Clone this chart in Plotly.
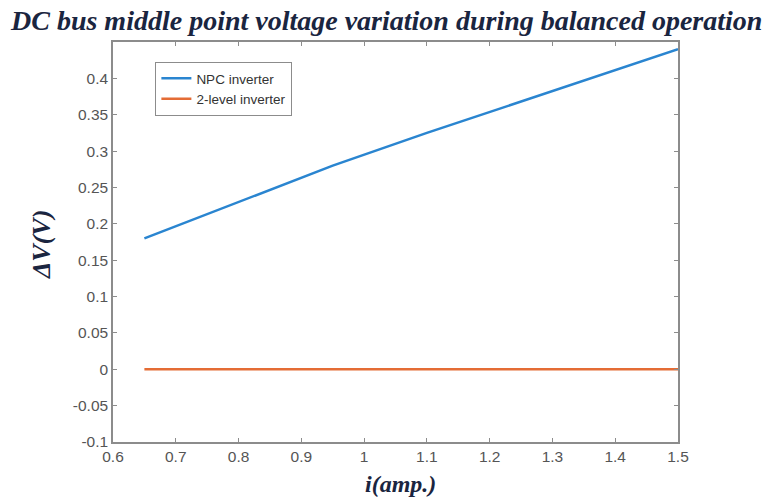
import plotly.graph_objects as go

x_npc = [0.65, 0.8, 0.95, 1.1, 1.3, 1.5]
y_npc = [0.18, 0.23, 0.28, 0.325, 0.383, 0.44]
x_2l = [0.65, 1.5]
y_2l = [0.0, 0.0]
x_ticks = [0.6, 0.7, 0.8, 0.9, 1.0, 1.1, 1.2, 1.3, 1.4, 1.5]
x_tick_labels = ["0.6", "0.7", "0.8", "0.9", "1", "1.1", "1.2", "1.3", "1.4", "1.5"]
y_ticks = [-0.1, -0.05, 0, 0.05, 0.1, 0.15, 0.2, 0.25, 0.3, 0.35, 0.4]
y_tick_labels = ["-0.1", "-0.05", "0", "0.05", "0.1", "0.15", "0.2", "0.25", "0.3", "0.35", "0.4"]

fig = go.Figure()
fig.add_trace(go.Scatter(x=x_npc, y=y_npc, mode="lines", name="NPC inverter",
                         line=dict(color="#2a85d0", width=2.5)))
fig.add_trace(go.Scatter(x=x_2l, y=y_2l, mode="lines", name="2-level inverter",
                         line=dict(color="#e46c35", width=2.5)))

axis_common = dict(showline=True, linecolor="#8c8c8c", linewidth=1.5, mirror="allticks",
                   ticks="inside", ticklen=4, tickcolor="#8c8c8c", showgrid=False, zeroline=False,
                   tickfont=dict(family="Liberation Sans, Arial", size=15.5, color="#555555"))

fig.update_layout(
    width=769, height=499,
    margin=dict(l=113, r=91, t=42, b=57),
    paper_bgcolor="white", plot_bgcolor="white",
    showlegend=True,
    legend=dict(x=0.075, y=0.95, xanchor="left", yanchor="top",
                bordercolor="#8c8c8c", borderwidth=1, bgcolor="white",
                font=dict(family="Liberation Sans, Arial", size=13.5, color="#333333"),
                tracegroupgap=0, itemwidth=30),
    xaxis=dict(range=[0.6, 1.5], tickvals=x_ticks, ticktext=x_tick_labels, **axis_common),
    yaxis=dict(range=[-0.1, 0.45], tickvals=y_ticks, ticktext=y_tick_labels, **axis_common),
)

fig.add_annotation(text="<b><i>DC bus middle point voltage variation during balanced operation</i></b>",
                   xref="paper", yref="paper", x=0.5, y=1.0, xanchor="center", yanchor="bottom",
                   yshift=4, xshift=-10, showarrow=False,
                   font=dict(family="Liberation Serif, Times New Roman", size=28, color="#1a2540"))
fig.add_annotation(text="<b><i>i(amp.)</i></b>",
                   xref="paper", yref="paper", x=0.5, y=0, xanchor="center", yanchor="top",
                   yshift=-27, xshift=5, showarrow=False,
                   font=dict(family="Liberation Serif, Times New Roman", size=24, color="#1a2540"))
fig.add_annotation(text="<b><i>ΔV(V)</i></b>",
                   xref="paper", yref="paper", x=0, y=0.5, xanchor="center", yanchor="middle",
                   xshift=-72, yshift=-3, textangle=-90, showarrow=False,
                   font=dict(family="Liberation Serif, Times New Roman", size=26, color="#1a2540"))

fig.write_html("out.html")
